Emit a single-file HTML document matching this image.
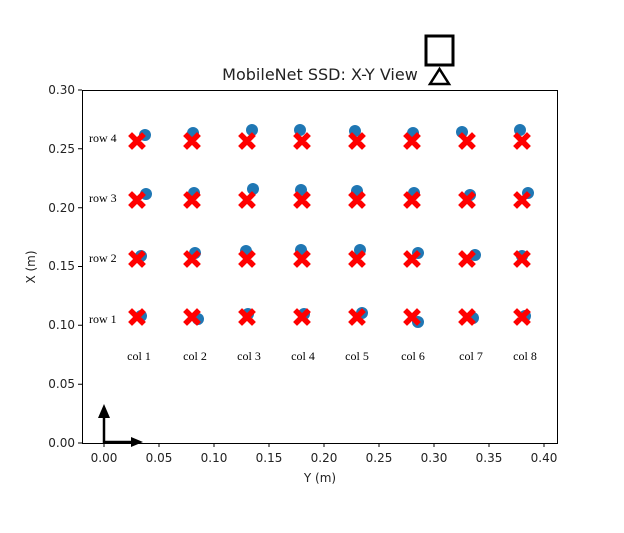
<!DOCTYPE html>
<html><head><meta charset="utf-8"><style>body{margin:0;background:#fff}</style></head><body>
<svg width="624" height="528" xmlns="http://www.w3.org/2000/svg" font-family="DejaVu Sans, sans-serif">
<rect width="624" height="528" fill="#fff"/>
<text x="320" y="80" font-size="16" text-anchor="middle" fill="#222">MobileNet SSD: X-Y View</text>
<rect x="426" y="36" width="27" height="29" fill="none" stroke="#000" stroke-width="3"/>
<polygon points="439.5,69 430,84 449,84" fill="none" stroke="#000" stroke-width="2.5"/>
<g fill="#1f77b4">
<circle cx="145" cy="135" r="6"/><circle cx="193" cy="133" r="6"/><circle cx="252" cy="130" r="6"/><circle cx="300" cy="130" r="6"/><circle cx="355" cy="131" r="6"/><circle cx="413" cy="133" r="6"/><circle cx="462" cy="132" r="6"/><circle cx="520" cy="130" r="6"/>
<circle cx="146" cy="194" r="6"/><circle cx="194" cy="193" r="6"/><circle cx="253" cy="189" r="6"/><circle cx="301" cy="190" r="6"/><circle cx="357" cy="191" r="6"/><circle cx="414" cy="193" r="6"/><circle cx="470" cy="195" r="6"/><circle cx="528" cy="193" r="6"/>
<circle cx="141" cy="256" r="6"/><circle cx="195" cy="253" r="6"/><circle cx="246" cy="251" r="6"/><circle cx="301" cy="250" r="6"/><circle cx="360" cy="250" r="6"/><circle cx="418" cy="253" r="6"/><circle cx="475" cy="255" r="6"/><circle cx="522" cy="256" r="6"/>
<circle cx="141" cy="316" r="6"/><circle cx="198" cy="319" r="6"/><circle cx="248" cy="314" r="6"/><circle cx="304" cy="314" r="6"/><circle cx="362" cy="313" r="6"/><circle cx="418" cy="322" r="6"/><circle cx="473" cy="318" r="6"/><circle cx="525" cy="316" r="6"/>
</g>
<g stroke="#f00" stroke-width="5.5" stroke-linecap="square" fill="none">
<path d="M132,136l10,10m0,-10l-10,10 M187,136l10,10m0,-10l-10,10 M242,136l10,10m0,-10l-10,10 M297,136l10,10m0,-10l-10,10 M352,136l10,10m0,-10l-10,10 M407,136l10,10m0,-10l-10,10 M462,136l10,10m0,-10l-10,10 M517,136l10,10m0,-10l-10,10"/>
<path transform="translate(0,59)" d="M132,136l10,10m0,-10l-10,10 M187,136l10,10m0,-10l-10,10 M242,136l10,10m0,-10l-10,10 M297,136l10,10m0,-10l-10,10 M352,136l10,10m0,-10l-10,10 M407,136l10,10m0,-10l-10,10 M462,136l10,10m0,-10l-10,10 M517,136l10,10m0,-10l-10,10"/>
<path transform="translate(0,118)" d="M132,136l10,10m0,-10l-10,10 M187,136l10,10m0,-10l-10,10 M242,136l10,10m0,-10l-10,10 M297,136l10,10m0,-10l-10,10 M352,136l10,10m0,-10l-10,10 M407,136l10,10m0,-10l-10,10 M462,136l10,10m0,-10l-10,10 M517,136l10,10m0,-10l-10,10"/>
<path transform="translate(0,176)" d="M132,136l10,10m0,-10l-10,10 M187,136l10,10m0,-10l-10,10 M242,136l10,10m0,-10l-10,10 M297,136l10,10m0,-10l-10,10 M352,136l10,10m0,-10l-10,10 M407,136l10,10m0,-10l-10,10 M462,136l10,10m0,-10l-10,10 M517,136l10,10m0,-10l-10,10"/>
</g>
<g font-family="Liberation Serif, serif" font-size="12" fill="#000">
<text x="89" y="142">row 4</text><text x="89" y="202">row 3</text><text x="89" y="262">row 2</text><text x="89" y="323">row 1</text>
<g text-anchor="middle"><text x="139" y="360">col 1</text><text x="195" y="360">col 2</text><text x="249" y="360">col 3</text><text x="303" y="360">col 4</text><text x="357" y="360">col 5</text><text x="413" y="360">col 6</text><text x="471" y="360">col 7</text><text x="525" y="360">col 8</text></g>
</g>
<g stroke="#000" stroke-width="2.5"><line x1="104" y1="443" x2="104" y2="415"/><line x1="104" y1="442" x2="132" y2="442"/></g>
<polygon points="104,404 98,418 110,418" fill="#000"/>
<polygon points="143,442 131,437 131,447" fill="#000"/>
<rect x="82.5" y="90.5" width="475" height="353" fill="none" stroke="#000" stroke-width="1"/>
<g stroke="#000"><path d="M104,443v4M159,443v4M214,443v4M269,443v4M324,443v4M379,443v4M434,443v4M489,443v4M544,443v4M82,443h-4M82,384.2h-4M82,325.3h-4M82,266.5h-4M82,207.7h-4M82,148.8h-4M82,90h-4"/></g>
<g font-size="12" fill="#222" text-anchor="middle">
<text x="104" y="462">0.00</text><text x="159" y="462">0.05</text><text x="214" y="462">0.10</text><text x="269" y="462">0.15</text><text x="324" y="462">0.20</text><text x="379" y="462">0.25</text><text x="434" y="462">0.30</text><text x="489" y="462">0.35</text><text x="544" y="462">0.40</text>
<text x="320" y="482">Y (m)</text>
</g>
<g font-size="12" fill="#222" text-anchor="end">
<text x="75" y="447">0.00</text><text x="75" y="388">0.05</text><text x="75" y="329">0.10</text><text x="75" y="270">0.15</text><text x="75" y="212">0.20</text><text x="75" y="153">0.25</text><text x="75" y="94">0.30</text>
</g>
<text x="35" y="267" font-size="12" fill="#222" text-anchor="middle" transform="rotate(-90 35 267)">X (m)</text>
</svg>
</body></html>
